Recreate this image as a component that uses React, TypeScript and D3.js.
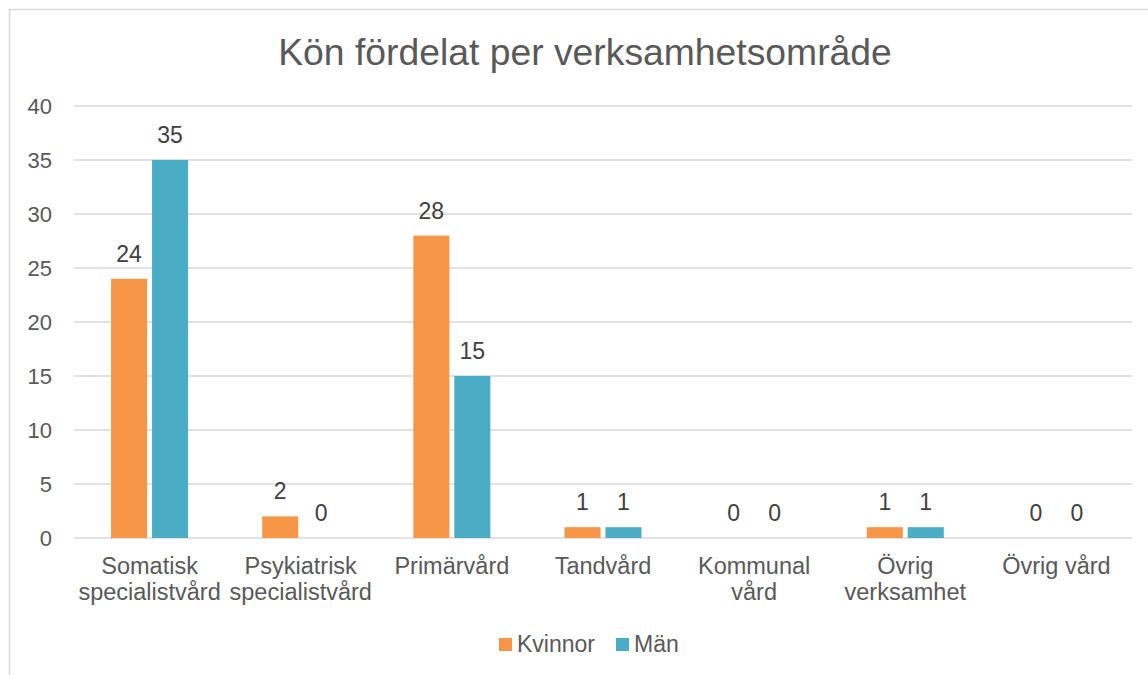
import React from 'react';
import * as d3 from 'd3';

const width = 1148;
const height = 675;
const margin = { left: 74, right: 16, top: 106, bottom: 137 };

const categories = [
  'Somatisk\nspecialistvård',
  'Psykiatrisk\nspecialistvård',
  'Primärvård',
  'Tandvård',
  'Kommunal\nvård',
  'Övrig\nverksamhet',
  'Övrig vård',
];
const seriesNames = ['Kvinnor', 'Män'];
const kvinnor = [24, 2, 28, 1, 0, 1, 0];
const man = [35, 0, 15, 1, 0, 1, 0];
const yTicks = [0, 5, 10, 15, 20, 25, 30, 35, 40];
const colors = ['#F79646', '#4BACC6'];

const font = 'Liberation Sans, Arial, sans-serif';

export default function App() {
  const innerW = width - margin.left - margin.right;
  const y = d3.scaleLinear().domain([0, 40]).range([height - margin.bottom, margin.top]);
  const x = d3.scaleBand().domain(categories).range([margin.left, margin.left + innerW]);
  const x1 = d3.scaleBand().domain(seriesNames).range([0, 77]).paddingInner(0.12);
  const series = [kvinnor, man];

  return (
    <svg width={width} height={height} style={{ position: 'absolute', left: 0, top: 0 }}>
      <rect x={0} y={0} width={width} height={height} fill="#fff" />
      <rect x={9.5} y={9.5} width={width + 10} height={height + 10} fill="#fff" stroke="#d9d9d9" strokeWidth={1.5} />
      <text x={585} y={65} textAnchor="middle" fontFamily={font} fontSize={37.3} fill="#595959">
        Kön fördelat per verksamhetsområde
      </text>
      {yTicks.map((t) => (
        <g key={t}>
          <line x1={margin.left} x2={margin.left + innerW} y1={y(t)} y2={y(t)} stroke="#d9d9d9" strokeWidth={1.5} />
          <text x={52} y={y(t) + 7.5} textAnchor="end" fontFamily={font} fontSize={22} fill="#595959">
            {t}
          </text>
        </g>
      ))}
      {categories.map((c, i) => {
        const cx = x(c)! + x.bandwidth() / 2;
        const gx = cx - 77 / 2;
        return (
          <g key={c}>
            {series.map((s, j) => {
              const bx = gx + x1(seriesNames[j])!;
              const bw = x1.bandwidth();
              return (
                <g key={j}>
                  <rect x={bx} y={y(s[i])} width={bw} height={y(0) - y(s[i])} fill={colors[j]} />
                  <text x={bx + bw / 2} y={y(s[i]) - 17} textAnchor="middle" fontFamily={font} fontSize={23} fill="#404040">
                    {s[i]}
                  </text>
                </g>
              );
            })}
            {c.split('\n').map((line, k) => (
              <text key={k} x={cx} y={574 + k * 26} textAnchor="middle" fontFamily={font} fontSize={23.5} fill="#595959">
                {line}
              </text>
            ))}
          </g>
        );
      })}
      {seriesNames.map((n, j) => {
        const lx = j === 0 ? 499 : 616;
        return (
          <g key={n}>
            <rect x={lx} y={638} width={13} height={13} fill={colors[j]} />
            <text x={lx + 18} y={652} fontFamily={font} fontSize={23} fill="#595959">
              {n}
            </text>
          </g>
        );
      })}
    </svg>
  );
}
